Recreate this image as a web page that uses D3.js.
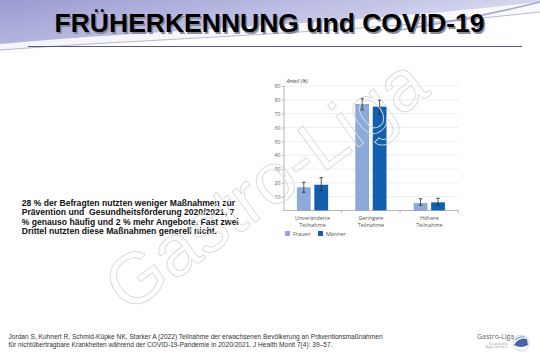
<!DOCTYPE html>
<html><head><meta charset="utf-8">
<script src="https://cdn.jsdelivr.net/npm/d3@7"></script>
<style>
html,body{margin:0;padding:0;background:#fff;}
svg{display:block;}
</style></head>
<body>
<script>
const categories = [["Unveränderte","Teilnahme"],["Geringere","Teilnahme"],["Höhere","Teilnahme"]];
const series = ["Frauen","Männer"];
const frauenValues = [16.8, 77.0, 5.4];
const frauenLow = [13.2, 72.7, 3.8];
const frauenHigh = [20.4, 80.8, 8.5];
const maennerValues = [18.6, 75.1, 5.9];
const maennerLow = [14.3, 69.6, 3.8];
const maennerHigh = [23.7, 79.7, 8.8];
const yTicks = [10,20,30,40,50,60,70,80,90];

const W = 540, H = 360;
const svg = d3.select("body").append("svg").attr("width", W).attr("height", H);
const defs = svg.append("defs");
const hg = defs.append("linearGradient").attr("id","hg").attr("x1","0").attr("y1","0").attr("x2","1").attr("y2","0.6");
hg.append("stop").attr("offset","0").attr("stop-color","#9a9bd0");
hg.append("stop").attr("offset","0.55").attr("stop-color","#c4c5e6");
hg.append("stop").attr("offset","1").attr("stop-color","#eeeef8");

// header background
svg.append("rect").attr("x",0).attr("y",0).attr("width",W).attr("height",60).attr("fill","url(#hg)");
svg.append("path").attr("d","M0,44 C150,30 330,26 540,2 L540,60 L0,60 Z").attr("fill","#ffffff").attr("opacity",0.85);
svg.append("path").attr("d","M0,50 C160,38 340,34 540,12 L540,60 L0,60 Z").attr("fill","#ffffff");
svg.append("path").attr("d","M0,50 C160,38 340,34 540,12").attr("fill","none").attr("stroke","#8a8ab8").attr("stroke-width",0.6);
svg.append("path").attr("d","M400,30 C450,22 500,12 540,2").attr("fill","none").attr("stroke","#7f86c8").attr("stroke-width",1.5).attr("opacity",0.7);
svg.append("line").attr("x1",28).attr("x2",522).attr("y1",46.5).attr("y2",46.5).attr("stroke","#55588a").attr("stroke-width",1);

// title
const title = "FRÜHERKENNUNG und COVID-19";
svg.append("text").attr("x",271).attr("y",33.5).attr("text-anchor","middle")
  .attr("font-family","Liberation Sans, Arial, sans-serif").attr("font-weight","bold").attr("font-size",26.5)
  .attr("fill","#8a8a9a").text(title);
svg.append("text").attr("x",269.5).attr("y",32).attr("text-anchor","middle")
  .attr("font-family","Liberation Sans, Arial, sans-serif").attr("font-weight","bold").attr("font-size",26.5)
  .attr("fill","#000").text(title);

// body text
const bodyLines = ["28 % der Befragten nutzten weniger Maßnahmen zur",
  "Prävention und  Gesundheitsförderung 2020/2021, 7",
  "% genauso häufig und 2 % mehr Angebote. Fast zwei",
  "Drittel nutzten diese Maßnahmen generell nicht."];
const bt = svg.append("text").attr("font-family","Liberation Sans, Arial, sans-serif").attr("font-weight","bold")
  .attr("font-size",8.6).attr("fill","#111").attr("xml:space","preserve");
bodyLines.forEach((l,i)=> bt.append("tspan").attr("x",21.7).attr("y",206+i*9.3).text(l));

// footer
const footLines = ["Jordan S, Kuhnert R, Schmid-Küpke NK, Starker A (2022) Teilnahme der erwachsenen Bevölkerung an Präventionsmaßnahmen",
  "für nichtübertragbare Krankheiten während der COVID-19-Pandemie in 2020/2021. J Health Monit 7(4): 39–57."];
const ft = svg.append("text").attr("font-family","Liberation Sans, Arial, sans-serif").attr("font-size",6.6).attr("fill","#333");
footLines.forEach((l,i)=> ft.append("tspan").attr("x",8.5).attr("y",338.5+i*8).text(l));

// chart
const font = "Open Sans, Noto Sans, sans-serif";
const y = d3.scaleLinear().domain([0,90]).range([210.5,86]);
const x0 = d3.scaleBand().domain(categories.map(c=>c.join(" "))).range([283.3,458.5]).paddingInner(0).paddingOuter(0);
const x1 = d3.scaleBand().domain(series).range([0,x0.bandwidth()]).paddingInner(0.21).paddingOuter(0.78);
const colors = {"Frauen":"#8ba9da","Männer":"#115fad"};
const g = svg.append("g");

// gridlines
g.selectAll("line.grid").data(yTicks).join("line").attr("class","grid")
  .attr("x1",284).attr("x2",458.5).attr("y1",d=>y(d)).attr("y2",d=>y(d))
  .attr("stroke","#e4e4e4").attr("stroke-width",0.6);

const data = categories.map((c,i)=>({cat:c.join(" "), vals:[
  {s:"Frauen", v:frauenValues[i], lo:frauenLow[i], hi:frauenHigh[i]},
  {s:"Männer", v:maennerValues[i], lo:maennerLow[i], hi:maennerHigh[i]}]}));

const grp = g.selectAll("g.cat").data(data).join("g").attr("transform",d=>`translate(${x0(d.cat)},0)`);
grp.selectAll("rect").data(d=>d.vals).join("rect")
  .attr("x",d=>x1(d.s)).attr("width",x1.bandwidth())
  .attr("y",d=>y(d.v)).attr("height",d=>y(0)-y(d.v)).attr("fill",d=>colors[d.s]);
const eb = grp.selectAll("g.eb").data(d=>d.vals).join("g").attr("stroke","#2a2a2a").attr("stroke-width",0.8);
eb.append("line").attr("x1",d=>x1(d.s)+x1.bandwidth()/2).attr("x2",d=>x1(d.s)+x1.bandwidth()/2).attr("y1",d=>y(d.lo)).attr("y2",d=>y(d.hi));
eb.append("line").attr("x1",d=>x1(d.s)+x1.bandwidth()/2-1.8).attr("x2",d=>x1(d.s)+x1.bandwidth()/2+1.8).attr("y1",d=>y(d.lo)).attr("y2",d=>y(d.lo));
eb.append("line").attr("x1",d=>x1(d.s)+x1.bandwidth()/2-1.8).attr("x2",d=>x1(d.s)+x1.bandwidth()/2+1.8).attr("y1",d=>y(d.hi)).attr("y2",d=>y(d.hi));

// y axis
const yAxis = d3.axisLeft(y).tickValues(yTicks).tickSize(2).tickPadding(1.5);
const ya = g.append("g").attr("transform","translate(284,0)").call(yAxis);
ya.select(".domain").attr("d",`M0,${y(90)}V${y(0)}`).attr("stroke","#888").attr("stroke-width",0.6);
ya.selectAll(".tick line").attr("stroke","#888").attr("stroke-width",0.6);
ya.selectAll(".tick text").attr("font-family",font).attr("font-size",5.2).attr("fill","#555");

// x axis
const xa = g.append("g").attr("transform",`translate(0,${y(0)})`);
xa.append("line").attr("x1",283.3).attr("x2",458.5).attr("stroke","#888").attr("stroke-width",0.6);
xa.selectAll("line.tk").data(x0.domain().slice(1).concat(["end"])).join("line").attr("class","tk")
  .attr("x1",d=>d==="end"?458.5:x0(d)).attr("x2",d=>d==="end"?458.5:x0(d)).attr("y1",0).attr("y2",2.5)
  .attr("stroke","#888").attr("stroke-width",0.6);
const cl = xa.selectAll("text.cl").data(categories).join("text").attr("class","cl")
  .attr("text-anchor","middle").attr("font-family",font).attr("font-size",5.4).attr("fill","#555");
cl.each(function(c){
  const t = d3.select(this); const cx = x0(c.join(" "))+x0.bandwidth()/2;
  c.forEach((l,i)=> t.append("tspan").attr("x",cx).attr("y",9.3+i*6.8).text(l));
});

// y label
g.append("text").attr("x",286.5).attr("y",82.5).attr("font-family",font).attr("font-style","italic")
  .attr("font-size",5.2).attr("fill","#444").text("Anteil (%)");

// legend
const lg = g.selectAll("g.lg").data(series).join("g").attr("class","lg")
  .attr("transform",(d,i)=>`translate(${285+i*33},231)`);
lg.append("rect").attr("width",5).attr("height",5).attr("fill",d=>colors[d]);
lg.append("text").attr("x",8).attr("y",4.6).attr("font-family",font).attr("font-size",5.4).attr("fill","#555").text(d=>d);

// watermark
svg.append("text").attr("transform","translate(280,204) rotate(-36)").attr("text-anchor","middle")
  .attr("font-family","Liberation Sans, Arial, sans-serif").attr("font-size",72)
  .attr("fill","none").attr("stroke","#d9d9d9").attr("stroke-width",0.9).text("Gastro-Liga");

// logo
const logo = svg.append("g").attr("transform","translate(477,330)");
logo.append("text").attr("x",0).attr("y",9).attr("font-family",font).attr("font-size",7).attr("fill","#666").text("Gastro-Liga");
logo.append("text").attr("x",31).attr("y",14.5).attr("text-anchor","end").attr("font-family",font).attr("font-size",2.6).attr("fill","#999").text("Gesellschaft für");
logo.append("text").attr("x",31).attr("y",17.5).attr("text-anchor","end").attr("font-family",font).attr("font-size",2.6).attr("fill","#999").text("Magen, Darm & Co");
logo.append("circle").attr("cx",44).attr("cy",13).attr("r",8).attr("fill","#fff").attr("stroke","#c8cce0").attr("stroke-width",0.8);
logo.append("path").attr("d","M37,15 Q42,7 50,9 L51,15 Q44,19 37,15 Z").attr("fill","#4a62a8");
logo.append("path").attr("d","M38,10 Q42,6 48,7").attr("fill","none").attr("stroke","#8fa4d8").attr("stroke-width",1.2);
</script>
</body></html>
